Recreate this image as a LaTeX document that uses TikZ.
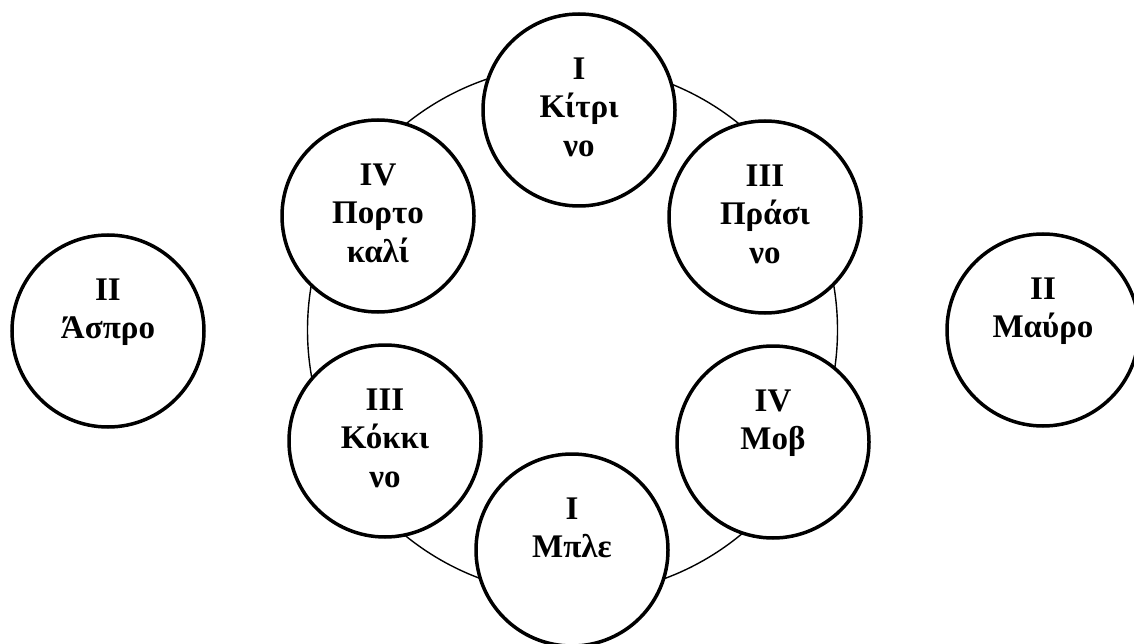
\documentclass[tikz,border=0pt]{standalone}
\usepackage{fontspec}
\setmainfont{Liberation Serif}
\begin{document}
\begin{tikzpicture}[x=1pt,y=-1pt,
  colour/.style={draw, circle, fill=white, line width=3.5pt, minimum size=192pt, inner sep=0pt,
    align=center, font=\bfseries\fontsize{33}{38.5}\selectfont},
  ring/.style={draw, circle, line width=1.4pt, minimum size=530pt, inner sep=0pt}]
\useasboundingbox (0,0) rectangle (1134,644);
\node[ring] (wheel) at (572.5,330) {};
\node[colour] (kitrino) at (579,110) {\strut I\\\strut Κίτρι\\\strut νο};
\node[colour] (prasino) at (765,217) {\strut III\\\strut Πράσι\\\strut νο};
\node[colour] (mov) at (773,442) {\strut IV\\\strut Μοβ\\\strut};
\node[colour] (mple) at (572,550) {\strut I\\\strut Μπλε\\\strut};
\node[colour] (kokkino) at (385,441) {\strut III\\\strut Κόκκι\\\strut νο};
\node[colour] (portokali) at (378,216) {\strut IV\\\strut Πορτο\\\strut καλί};
\node[colour] (aspro) at (108,331) {\strut II\\\strut Άσπρο\\\strut};
\node[colour] (mavro) at (1043,330) {\strut II\\\strut Μαύρο\\\strut};
\end{tikzpicture}
\end{document}
